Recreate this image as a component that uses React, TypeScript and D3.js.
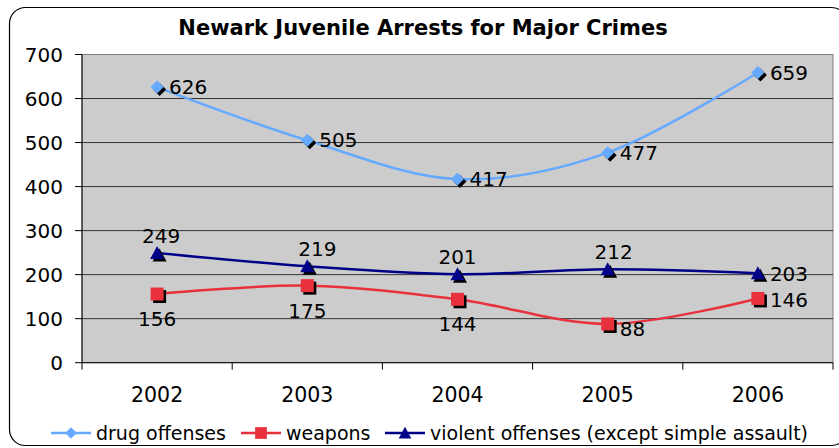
import React from "react";
import * as d3 from "d3";

const years = ["2002", "2003", "2004", "2005", "2006"];
const drugOffenses = [626, 505, 417, 477, 659];
const weapons = [156, 175, 144, 88, 146];
const violentOffenses = [249, 219, 201, 212, 203];
const yTicks = [0, 100, 200, 300, 400, 500, 600, 700];

const W = 839, H = 448;
const L = 82, R = 833, T = 54.5, B = 362.7;
const FONT = "'DejaVu Sans', Verdana, sans-serif";

export default function App() {
  const x = d3.scaleBand<string>().domain(years).range([L, R]).padding(0);
  const cx = (i: number) => (x(years[i]) as number) + x.bandwidth() / 2;
  const y = d3.scaleLinear().domain([0, 700]).range([B, T]);
  const line = d3.line<number>().x((_, i) => cx(i)).y((d) => y(d)).curve(d3.curveCatmullRom.alpha(0));

  const diamond = (px: number, py: number, fill: string, k = 1) => (
    <path d={`M${px},${py - 6.5 * k}L${px + 6.5 * k},${py}L${px},${py + 6.5 * k}L${px - 6.5 * k},${py}Z`} fill={fill} />
  );
  const square = (px: number, py: number, fill: string, k = 1) => (
    <rect x={px - 6.5 * k} y={py - 6.5 * k} width={13 * k} height={13 * k} fill={fill} />
  );
  const tri = (px: number, py: number, fill: string, k = 1) => (
    <path d={`M${px},${py - 7 * k}L${px + 7 * k},${py + 6 * k}L${px - 7 * k},${py + 6 * k}Z`} fill={fill} />
  );

  const series = [
    { name: "drug offenses", data: drugOffenses, color: "#66aaff", marker: diamond },
    { name: "weapons", data: weapons, color: "#e8313c", marker: square },
    { name: "violent offenses (except simple assault)", data: violentOffenses, color: "#000088", marker: tri },
  ];

  // label placement per series/point: [dx, dy, anchor]
  const drugPos = drugOffenses.map(() => [12, 7, "start"]);
  const weaponPos = [[0, 32, "middle"], [0, 32, "middle"], [0, 32, "middle"], [12, 12, "start"], [12, 9, "start"]];
  const violentPos = [[4, -10, "middle"], [10, -10, "middle"], [0, -10, "middle"], [6, -10, "middle"], [12, 8, "start"]];
  const positions = [drugPos, weaponPos, violentPos];

  const legend = [
    { x0: 51, tx: 96 },
    { x0: 241, tx: 286 },
    { x0: 385, tx: 430 },
  ];
  const ly = 433;

  return (
    <svg width={W} height={H} style={{ position: "absolute", left: 0, top: 0, background: "#fff" }} fontFamily={FONT}>
      <rect x={9.5} y={7.5} width={838} height={438} rx={16} fill="#fff" stroke="#000" strokeWidth={1.2} />
      <text x={423} y={35} textAnchor="middle" fontWeight="bold" fontSize={21}>Newark Juvenile Arrests for Major Crimes</text>
      <rect x={L} y={T} width={R - L} height={B - T} fill="#cccccc" stroke="#808080" strokeWidth={1} />
      {yTicks.map((t) => (
        <g key={t}>
          {t > 0 && t < 700 && <line x1={L} x2={R} y1={y(t)} y2={y(t)} stroke="#333" strokeWidth={1} />}
          <line x1={L - 7} x2={L} y1={y(t)} y2={y(t)} stroke="#000" />
          <text x={L - 19} y={y(t) + 7.5} textAnchor="end" fontSize={20}>{t}</text>
        </g>
      ))}
      <line x1={L} x2={L} y1={T} y2={B} stroke="#000" />
      <line x1={L} x2={R} y1={B} y2={B} stroke="#000" />
      {years.map((yr, i) => (
        <g key={yr}>
          <line x1={x(yr) as number} x2={x(yr) as number} y1={B} y2={B + 7} stroke="#000" />
          <text x={cx(i)} y={402} textAnchor="middle" fontSize={20.5}>{yr}</text>
        </g>
      ))}
      <line x1={R} x2={R} y1={B} y2={B + 7} stroke="#000" />
      {series.map((s, si) => (
        <g key={s.name}>
          <path d={line(s.data) || ""} fill="none" stroke={s.color} strokeWidth={2.5} />
          {s.data.map((v, i) => (
            <g key={i}>
              {s.marker(cx(i) + 2.5, y(v) + 2.5, "#000")}
              {s.marker(cx(i), y(v), s.color)}
              <text x={cx(i) + (positions[si][i][0] as number)} y={y(v) + (positions[si][i][1] as number)}
                textAnchor={positions[si][i][2] as any} fontSize={20}>{v}</text>
            </g>
          ))}
        </g>
      ))}
      {series.map((s, si) => (
        <g key={"lg" + si}>
          <line x1={legend[si].x0} x2={legend[si].x0 + 40} y1={ly} y2={ly} stroke={s.color} strokeWidth={2.5} />
          {s.marker(legend[si].x0 + 20, ly, s.color, 0.9)}
          <text x={legend[si].tx} y={ly + 6.5} fontSize={19}>{s.name}</text>
        </g>
      ))}
    </svg>
  );
}
